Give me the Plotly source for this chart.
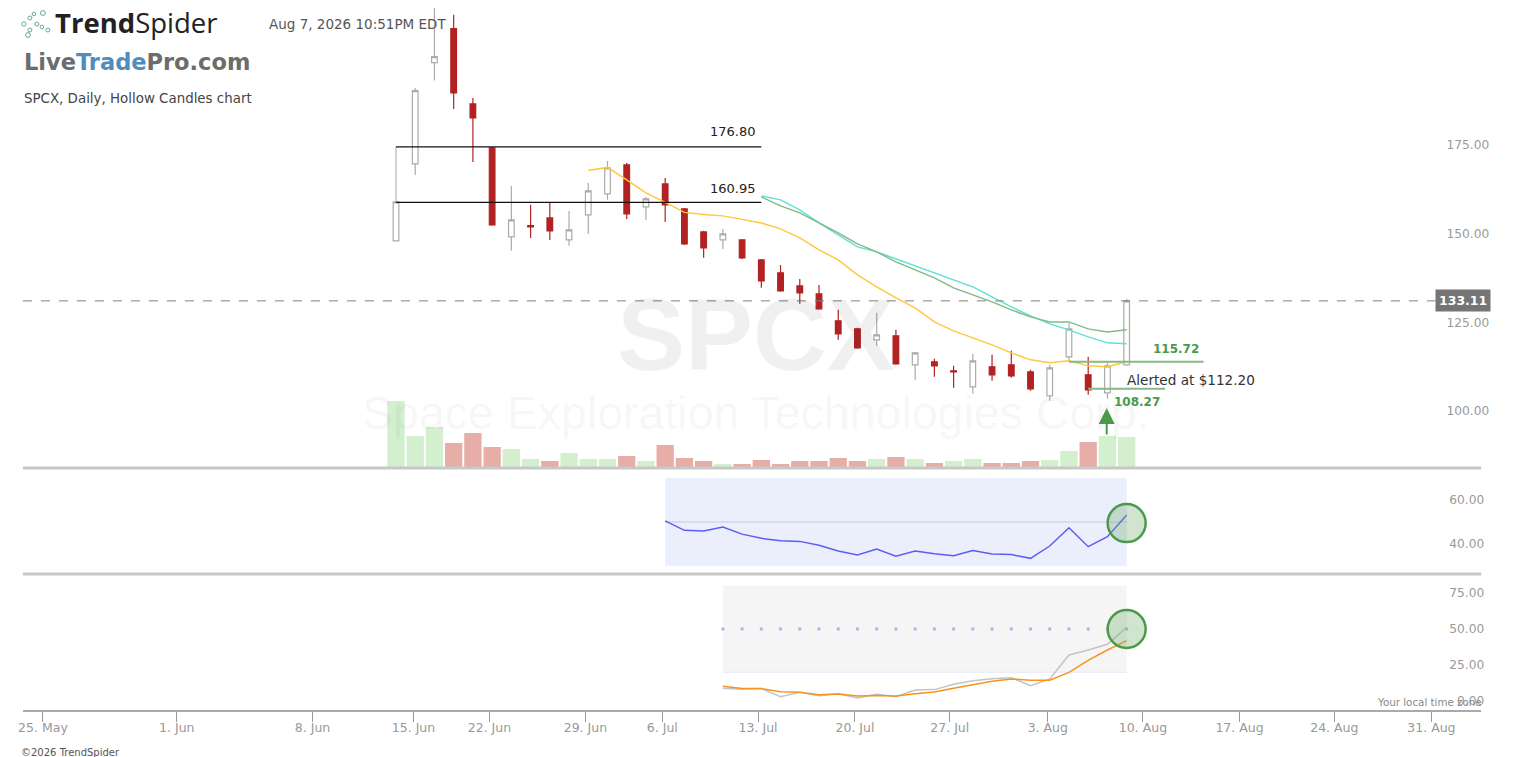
import plotly.graph_objects as go

# page body keeps its 8px margin, so the figure sits 8px in from the window corner
W, H = 1500, 749
OFFSET = 8

# trading days since the 12 Jun listing, x axis is bar index
bar_index = list(range(39))

opens = [147.94, 169.64, 198.2, 207.79, 186.56, 174.15, 149.07, 152.25, 154.42, 148.22,
         155.27, 161.19, 169.36, 157.52, 164.01, 156.96, 150.47, 148.22, 148.22, 142.58,
         138.92, 135.25, 133.0, 125.39, 123.13, 120.03, 121.16, 112.98, 113.83, 111.29,
         106.78, 112.42, 112.98, 111.01, 104.24, 115.24, 110.16, 105.09, 112.98]
highs = [158.93, 191.07, 214.47, 211.73, 188.25, 174.44, 163.44, 158.09, 158.65, 156.39,
         164.29, 170.49, 169.93, 160.34, 165.7, 157.24, 150.76, 151.32, 148.5, 142.86,
         141.17, 137.22, 135.53, 128.49, 123.41, 127.64, 122.85, 116.64, 114.67, 112.7,
         116.08, 115.8, 116.93, 111.57, 112.98, 124.82, 115.24, 113.55, 131.59]
lows = [147.94, 166.54, 193.13, 185.15, 170.21, 152.17, 145.12, 148.78, 148.22, 146.53,
        149.91, 159.5, 154.14, 153.86, 153.29, 146.81, 143.15, 145.68, 142.86, 134.69,
        133.56, 130.18, 128.49, 120.03, 117.49, 118.34, 112.98, 108.75, 109.6, 106.5,
        104.81, 108.47, 109.32, 105.65, 102.83, 113.83, 104.52, 103.4, 112.7]
closes = [158.93, 190.31, 199.89, 189.66, 182.61, 152.45, 153.86, 151.88, 150.76, 151.04,
          162.03, 168.52, 155.55, 159.78, 158.09, 147.09, 145.96, 149.91, 143.15, 136.66,
          133.84, 133.28, 128.77, 121.72, 117.77, 121.44, 113.26, 116.36, 112.7, 111.01,
          114.11, 110.16, 109.88, 106.22, 112.14, 123.13, 105.93, 112.7, 131.02]
volumes = [67, 32, 41, 25, 35, 21, 19, 9, 7, 15, 9, 9, 12, 7, 23, 10, 7, 4, 4, 8,
           4, 7, 7, 10, 7, 9, 11, 9, 5, 7, 9, 5, 5, 7, 8, 17, 26, 32, 31]
volume_up = [1, 1, 1, 0, 0, 0, 1, 1, 0, 1, 1, 1, 0, 1, 0, 0, 0, 1, 0, 0,
             0, 0, 0, 0, 0, 1, 0, 1, 0, 1, 1, 0, 0, 0, 1, 1, 0, 1, 1]

ma_fast = [167.81, 168.66, 165.13, 161.47, 158.79, 155.97, 155.41, 154.99, 154.0, 153.01,
           151.32, 148.78, 145.4, 142.58, 138.35, 134.97, 131.87, 129.05, 125.1, 122.57,
           120.59, 118.62, 116.36, 114.39, 113.55, 114.11, 112.7, 112.42, 113.83]
ma_cyan = [160.62, 159.5, 156.68, 153.01, 149.63, 146.25, 144.84, 142.86, 140.89, 138.92,
           136.94, 134.97, 132.15, 129.33, 126.79, 124.54, 122.85, 120.87, 119.18, 118.9]
ma_green = [160.34, 157.8, 155.83, 153.01, 150.19, 147.09, 144.84, 142.02, 139.76, 137.51,
            134.69, 132.71, 130.74, 128.49, 126.51, 125.1, 125.1, 123.13, 122.28, 122.85]

rsi = [50.5, 46.2, 45.9, 47.7, 44.5, 42.6, 41.5, 41.2, 39.4, 36.8, 35, 37.7, 34.5,
       36.8, 35.6, 34.7, 37.1, 35.5, 35.2, 33.5, 39.1, 47.4, 38.8, 43.3, 53.2]
stoch_k = [8.8, 8.1, 8.6, 3, 6, 3.7, 5.1, 2.1, 4.6, 3, 7.6, 7.9, 11.6, 14.1, 15.5,
           16.2, 10.7, 15.3, 32, 35.4, 39.4, 51.2]
stoch_d = [10.2, 8.6, 8.6, 6.5, 6, 4.4, 4.9, 3.5, 3.9, 3.5, 5.1, 6.3, 8.8, 11.1, 13.7,
           15.3, 14.4, 14.4, 19.9, 28.2, 35.4, 41.9]

price_ticks = [100, 125, 150, 175]
rsi_ticks = [40, 60]
stoch_ticks = [0, 25, 50, 75]
date_labels = ["25. May", "1. Jun", "8. Jun", "15. Jun", "22. Jun", "29. Jun", "6. Jul", "13. Jul",
               "20. Jul", "27. Jul", "3. Aug", "10. Aug", "17. Aug", "24. Aug", "31. Aug"]
date_ticks = [-18.36, -11.4, -4.34, 0.91, 4.86, 9.85, 13.85, 18.83,
              23.87, 28.8, 33.9, 38.85, 43.87, 48.8, 53.85]

level_top, level_mid = 174.44, 158.79
last_price = 131.02
pivot_high, pivot_low = 113.83, 106.22


def px(x):
    # small correction measured from the render
    return (x * 1.0022 - 4.1 - OFFSET) / W


def py(y):
    return 1 - (y - OFFSET) / H


def idx(x):
    # screen x to bar index, for furniture tied to the time axis
    return (x - 395.5) / 19.25


AXIS_GREY = "#999999"
UP_LINE = "#ababab"
DOWN = "#b22222"
GREEN = "#4a9a4a"

fig = go.Figure()

fig.add_trace(go.Bar(x=bar_index, y=volumes, width=0.9, yaxis="y4", xaxis="x",
                     marker={"color": ["#d3efcd" if u else "#e6aea6" for u in volume_up],
                             "line": {"width": 0}}))
fig.add_trace(go.Candlestick(
    x=bar_index, open=opens, high=highs, low=lows, close=closes, whiskerwidth=0,
    increasing={"line": {"color": UP_LINE, "width": 1.2}, "fillcolor": "#ffffff"},
    decreasing={"line": {"color": DOWN, "width": 1.2}, "fillcolor": DOWN},
))
fig.add_trace(go.Scatter(x=bar_index[10:], y=ma_fast, mode="lines",
                         line={"color": "#ffc83d", "width": 1.5}))
fig.add_trace(go.Scatter(x=bar_index[19:], y=ma_cyan, mode="lines",
                         line={"color": "#62e0d6", "width": 1.5}))
fig.add_trace(go.Scatter(x=bar_index[19:], y=ma_green, mode="lines",
                         line={"color": "#84ba84", "width": 1.5}))

# rsi pane
fig.add_trace(go.Scatter(x=[14, 38], y=[50, 50], mode="lines", yaxis="y2",
                         line={"color": "#d8dbf3", "width": 2}))
fig.add_trace(go.Scatter(x=bar_index[14:], y=rsi, mode="lines", yaxis="y2",
                         line={"color": "#5a5ff0", "width": 1.5}))
fig.add_trace(go.Scatter(x=[38], y=[49.5], mode="markers", yaxis="y2",
                         marker={"size": 38, "color": "rgba(110,170,110,0.32)",
                                 "line": {"color": GREEN, "width": 2.5}}))

# stochastic pane
fig.add_trace(go.Scatter(x=bar_index[17:], y=[50] * 22, mode="markers", yaxis="y3",
                         marker={"size": 3.5, "color": "#b0b3f0"}))
fig.add_trace(go.Scatter(x=bar_index[17:], y=stoch_k, mode="lines", yaxis="y3",
                         line={"color": "#c4c4c4", "width": 1.5}))
fig.add_trace(go.Scatter(x=bar_index[17:], y=stoch_d, mode="lines", yaxis="y3",
                         line={"color": "#f7931e", "width": 1.5}))
fig.add_trace(go.Scatter(x=[38], y=[50], mode="markers", yaxis="y3",
                         marker={"size": 38, "color": "rgba(110,170,110,0.32)",
                                 "line": {"color": GREEN, "width": 2.5}}))

shapes = [
    # pane bands
    {"type": "rect", "xref": "x", "yref": "y2", "x0": 14, "x1": 38, "y0": 30, "y1": 70,
     "fillcolor": "#ebeefb", "line": {"width": 0}, "layer": "below"},
    {"type": "rect", "xref": "x", "yref": "y3", "x0": 17, "x1": 38, "y0": 20, "y1": 80,
     "fillcolor": "#f5f5f5", "line": {"width": 0}, "layer": "below"},
    {"type": "line", "xref": "x", "yref": "y3", "x0": 17, "x1": 38, "y0": 20, "y1": 20,
     "line": {"color": "#e4e5f5", "width": 1}, "layer": "below"},
    # fib style box on the left
    {"type": "line", "xref": "x", "yref": "y", "x0": 0, "x1": 0, "y0": level_mid, "y1": level_top,
     "line": {"color": "#a8a8a8", "width": 1}},
    {"type": "line", "xref": "x", "yref": "y", "x0": 0, "x1": 19, "y0": level_top, "y1": level_top,
     "line": {"color": "#111111", "width": 1.3}},
    {"type": "line", "xref": "x", "yref": "y", "x0": 0, "x1": 19, "y0": level_mid, "y1": level_mid,
     "line": {"color": "#111111", "width": 1.3}},
    {"type": "line", "xref": "paper", "yref": "y", "x0": px(22), "x1": px(1436),
     "y0": last_price, "y1": last_price,
     "line": {"color": "#808080", "width": 1, "dash": "dash"}},
    {"type": "line", "xref": "x", "yref": "y", "x0": 35, "x1": 42, "y0": pivot_high, "y1": pivot_high,
     "line": {"color": "#84ba84", "width": 2}},
    {"type": "line", "xref": "x", "yref": "y", "x0": 36, "x1": 40, "y0": pivot_low, "y1": pivot_low,
     "line": {"color": "#84ba84", "width": 2}},
    # pane separators
    {"type": "line", "xref": "paper", "yref": "paper", "x0": px(22), "x1": px(1482),
     "y0": py(468), "y1": py(468), "line": {"color": "#c8c8c8", "width": 3}},
    {"type": "line", "xref": "paper", "yref": "paper", "x0": px(22), "x1": px(1482),
     "y0": py(574), "y1": py(574), "line": {"color": "#c8c8c8", "width": 3}},
]

# logo dots
for cx, cy, r in [(23, 24, 2.2), (29, 18, 2), (33, 14, 1.8), (42, 13, 2.4), (36, 24, 2),
                  (29, 30, 2), (27, 35, 2.4), (41, 27, 1.8), (47, 30, 2)]:
    shapes.append({"type": "circle", "xref": "paper", "yref": "paper",
                   "x0": px(cx - r), "x1": px(cx + r), "y0": py(cy - r), "y1": py(cy + r),
                   "line": {"color": "#6aa79a", "width": 1}})


def note(text, x, y, size=12, color="#444444", family="DejaVu Sans", anchor="left", **kw):
    return dict(text=text, x=px(x), y=py(y), xref="paper", yref="paper", showarrow=False,
                xanchor=anchor, yanchor="middle", font={"family": family, "size": size, "color": color}, **kw)


annotations = [
    note("<b>SPCX</b>", 756, 335, 102, "rgba(0,0,0,0.06)", "Liberation Sans", "center"),
    note("Space Exploration Technologies Corp.", 756, 413, 46.5, "rgba(0,0,0,0.055)", "Liberation Sans", "center"),
    note("<b>Trend</b>Spider", 52, 22, 27.5, "#222222", "Open Sans"),
    note("Aug 7, 2026 10:51PM EDT", 266, 24, 13.5, "#555555"),
    note('<b><span style="color:#6c6c6c">Live</span><span style="color:#4f8dbf">Trade</span>'
         '<span style="color:#6c6c6c">Pro.com</span></b>', 21, 62, 22.5, "#6c6c6c"),
    note("SPCX, Daily, Hollow Candles chart", 21, 98, 13.4, "#444444"),
    note("176.80", 758, 132, 13, "#222222", anchor="right"),
    note("160.95", 758, 188, 13, "#222222", anchor="right"),
    note("<b>115.72</b>", 1151, 349, 12, GREEN),
    note("<b>108.27</b>", 1112, 402, 12, GREEN),
    note("Alerted at $112.20", 1125, 380, 13.6, "#333333"),
    note("<b>133.11</b>", 1464, 300, 12.5, "#ffffff", anchor="center", bgcolor="#757575",
         borderpad=3),
    note("Your local time zone", 1485, 702, 10.3, "#8a8a8a", anchor="right"),
    note("©2026 TrendSpider", 18, 752, 10, "#555555"),
    dict(x=px(1107), y=py(408), ax=0, ay=28, xref="paper", yref="paper", text="",
         showarrow=True, arrowhead=2, arrowsize=1.6, arrowwidth=2, arrowcolor=GREEN),
]

price_top = 213.6
price_bottom = 83.9

tick_font = {"family": "DejaVu Sans", "size": 12.2, "color": AXIS_GREY}

fig.update_layout(
    width=W,
    height=H,
    margin={"l": 0, "r": 0, "t": 0, "b": 0},
    paper_bgcolor="#ffffff",
    plot_bgcolor="#ffffff",
    showlegend=False,
    boxgap=0.58,
    bargap=0.1,
    shapes=shapes,
    annotations=annotations,
    xaxis={"domain": [px(22), px(1482)], "range": [idx(22), idx(1482)], "anchor": "y3",
           "tickmode": "array", "tickvals": date_ticks, "ticktext": date_labels,
           "ticks": "outside", "ticklen": 10, "tickcolor": "#999999", "showgrid": False,
           "zeroline": False, "showline": True, "linecolor": "#aaaaaa", "linewidth": 1.5,
           "rangeslider": {"visible": False}, "ticklabelstandoff": -5,
           "tickfont": {"family": "DejaVu Sans", "size": 12.5, "color": AXIS_GREY}},
    yaxis={"domain": [py(468), 1], "range": [price_bottom, price_top], "anchor": "free",
           "position": px(1490), "side": "left", "tickmode": "array", "tickvals": price_ticks,
           "tickformat": ".2f", "showgrid": False, "zeroline": False, "tickfont": tick_font},
    yaxis4={"domain": [py(468), 1], "range": [0, 460], "overlaying": "y", "visible": False},
    yaxis2={"domain": [py(572), py(472)], "range": [27.3, 72.7], "anchor": "free",
            "position": px(1485), "side": "left", "tickmode": "array", "tickvals": rsi_ticks,
            "tickformat": ".2f", "showgrid": False, "zeroline": False, "tickfont": tick_font},
    yaxis3={"domain": [py(710), py(576)], "range": [-6.25, 86.8], "anchor": "free",
            "position": px(1485), "side": "left", "tickmode": "array", "tickvals": stoch_ticks,
            "tickformat": ".2f", "showgrid": False, "zeroline": False, "tickfont": tick_font},
)

fig.write_html("out.html")
